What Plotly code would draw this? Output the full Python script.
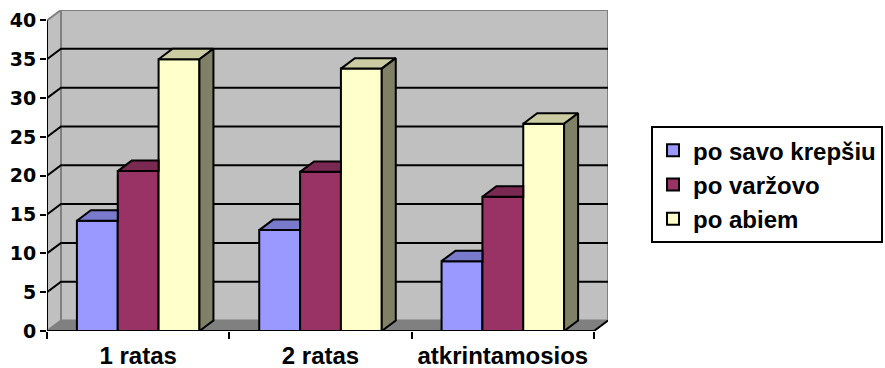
import plotly.graph_objects as go

# ---- data -------------------------------------------------------------
categories = ["1 ratas", "2 ratas", "atkrintamosios"]
series_names = ["po savo krepšiu", "po varžovo", "po abiem"]
po_savo_krepsiu = [14.2, 13.0, 9.0]
po_varzovo = [20.6, 20.5, 17.3]
po_abiem = [35.0, 33.8, 26.7]
y_tick_values = [0, 5, 10, 15, 20, 25, 30, 35, 40]

series_values = [po_savo_krepsiu, po_varzovo, po_abiem]

# ---- style ------------------------------------------------------------
front_colors = ["#9999FF", "#993366", "#FFFFCC"]
top_colors = ["#7A7ACC", "#7A2952", "#CCCCA3"]
side_colors = ["#4D4D80", "#4D1A33", "#808066"]
WALL = "#C0C0C0"
FLOOR = "#808080"
EDGE = "#808080"

ARIAL = "Liberation Sans, Arial, sans-serif"
WIDE = "DejaVu Sans, Verdana, sans-serif"

Y_MAX = y_tick_values[-1]
DEPTH_X = 0.0768   # 3-D depth expressed in category units
DEPTH_Y = 1.35     # 3-D depth expressed in value units
GROUP = 0.672      # width of a group of bars
BAR_W = GROUP / len(series_values)

n_cat = len(categories)
centers = [i + 0.5 for i in range(n_cat)]
X_END = n_cat + DEPTH_X
Y_END = Y_MAX + DEPTH_Y

fig = go.Figure()

# front faces of the columns
for k, (name, vals) in enumerate(zip(series_names, series_values)):
    fig.add_trace(go.Bar(
        x=centers, y=vals, name=name,
        width=BAR_W, offset=-GROUP / 2 + k * BAR_W,
        marker=dict(color=front_colors[k], line=dict(color="black", width=2)),
        legendgroup=name,
        hoverinfo="skip",
    ))


def face(xs, ys, color):
    fig.add_trace(go.Scatter(
        x=xs + [xs[0]], y=ys + [ys[0]], mode="lines", fill="toself",
        fillcolor=color, line=dict(color="black", width=2),
        showlegend=False, hoverinfo="skip",
    ))


# top and side faces giving the columns their depth
for i in range(n_cat):
    for k, vals in enumerate(series_values):
        v = vals[i]
        x0 = centers[i] - GROUP / 2 + k * BAR_W
        x1 = x0 + BAR_W
        nxt = series_values[k + 1][i] if k + 1 < len(series_values) else None
        hidden_right = nxt is not None and nxt >= v
        if hidden_right:
            face([x0, x0 + DEPTH_X, x1, x1],
                 [v, v + DEPTH_Y, v + DEPTH_Y, v], top_colors[k])
        else:
            face([x0, x0 + DEPTH_X, x1 + DEPTH_X, x1],
                 [v, v + DEPTH_Y, v + DEPTH_Y, v], top_colors[k])
            face([x1, x1, x1 + DEPTH_X, x1 + DEPTH_X],
                 [0, v, v + DEPTH_Y, DEPTH_Y], side_colors[k])

# carrier for the category labels axis
fig.add_trace(go.Scatter(x=centers, y=[0] * n_cat, xaxis="x2", mode="markers",
                         marker=dict(opacity=0), showlegend=False, hoverinfo="skip"))


def path(points):
    return "M " + " L ".join(f"{x},{y}" for x, y in points) + " Z"


def open_path(points):
    return "M " + " L ".join(f"{x},{y}" for x, y in points)


shapes = []
# back wall
shapes.append(dict(type="rect", xref="x", yref="y", layer="below",
                   x0=DEPTH_X, x1=X_END, y0=DEPTH_Y, y1=Y_END,
                   fillcolor=WALL, line=dict(color=EDGE, width=2)))
# side wall
shapes.append(dict(type="path", xref="x", yref="y", layer="below",
                   path=path([(0, 0), (DEPTH_X, DEPTH_Y), (DEPTH_X, Y_END), (0, Y_MAX)]),
                   fillcolor=WALL, line=dict(color=EDGE, width=2)))
# floor
shapes.append(dict(type="path", xref="x", yref="y", layer="below",
                   path=path([(0, 0), (n_cat, 0), (X_END, DEPTH_Y), (DEPTH_X, DEPTH_Y)]),
                   fillcolor=FLOOR, line=dict(color=EDGE, width=1)))
# gridlines running over the side wall and the back wall
for v in y_tick_values[1:-1]:
    shapes.append(dict(type="path", xref="x", yref="y", layer="below",
                       path=open_path([(0, v), (DEPTH_X, v + DEPTH_Y), (X_END, v + DEPTH_Y)]),
                       line=dict(color="black", width=2)))
# front axis lines
shapes.append(dict(type="line", xref="x", yref="y", layer="above",
                   x0=0, x1=0, y0=0, y1=Y_MAX, line=dict(color="black", width=2)))
shapes.append(dict(type="path", xref="x", yref="y", layer="above",
                   path=open_path([(0, 0), (n_cat, 0), (X_END, DEPTH_Y)]),
                   line=dict(color="black", width=2)))

legend_font = dict(family=ARIAL, size=24, color="black", weight="bold")

fig.update_layout(
    width=885, height=368,
    margin=dict(l=47, r=277, t=10, b=37, autoexpand=False),
    paper_bgcolor="white", plot_bgcolor="white",
    barmode="overlay",
    shapes=shapes,
    showlegend=True,
    legend=dict(
        x=(651 - 47) / 561, xanchor="left", y=0.638, yanchor="top",
        bordercolor="black", borderwidth=2, bgcolor="white",
        font=legend_font,
        tracegroupgap=2, traceorder="normal",
    ),
    xaxis=dict(
        range=[0, X_END], tickvals=list(range(n_cat + 1)),
        ticktext=[""] * (n_cat + 1), ticks="outside", ticklen=7, tickwidth=2,
        tickcolor="black", showgrid=False, zeroline=False, showline=False,
        fixedrange=True, automargin=False,
    ),
    xaxis2=dict(
        overlaying="x", matches="x", range=[0, X_END], side="bottom",
        tickvals=centers, ticktext=categories, ticks="",
        tickfont=dict(family=ARIAL, size=24, color="black", weight="bold"),
        ticklabelstandoff=8, showgrid=False, zeroline=False, showline=False,
        fixedrange=True, automargin=False,
    ),
    yaxis=dict(
        range=[0, Y_END], tickvals=y_tick_values, ticks="outside", ticklen=6,
        tickwidth=2, tickcolor="black",
        tickfont=dict(family=WIDE, size=19, color="black", weight="bold"),
        showgrid=False, zeroline=False, showline=False, fixedrange=True,
        automargin=False,
    ),
)

fig.write_html("out.html")
